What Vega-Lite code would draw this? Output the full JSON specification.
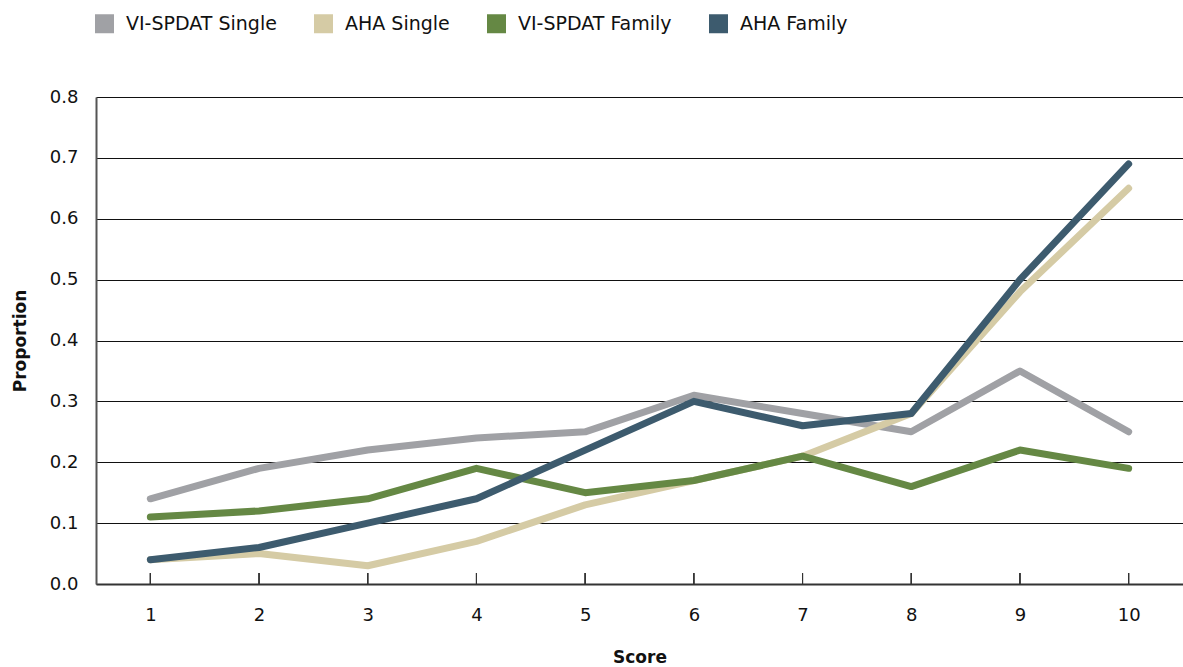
{
  "$schema": "https://vega.github.io/schema/vega-lite/v6.json",
  "width": 1087,
  "height": 487,
  "autosize": {"type": "none"},
  "padding": {"left": 96, "top": 97, "right": 0, "bottom": 83},
  "background": "white",
  "config": {
    "view": {"stroke": null},
    "font": "DejaVu Sans",
    "axis": {"labelFont": "DejaVu Sans", "titleFont": "DejaVu Sans"},
    "legend": {"labelFont": "DejaVu Sans"}
  },
  "data": {
    "values": [
      {"score": 1, "series": "VI-SPDAT Single", "value": 0.14},
      {"score": 2, "series": "VI-SPDAT Single", "value": 0.19},
      {"score": 3, "series": "VI-SPDAT Single", "value": 0.22},
      {"score": 4, "series": "VI-SPDAT Single", "value": 0.24},
      {"score": 5, "series": "VI-SPDAT Single", "value": 0.25},
      {"score": 6, "series": "VI-SPDAT Single", "value": 0.31},
      {"score": 7, "series": "VI-SPDAT Single", "value": 0.28},
      {"score": 8, "series": "VI-SPDAT Single", "value": 0.25},
      {"score": 9, "series": "VI-SPDAT Single", "value": 0.35},
      {"score": 10, "series": "VI-SPDAT Single", "value": 0.25},
      {"score": 1, "series": "AHA Single", "value": 0.04},
      {"score": 2, "series": "AHA Single", "value": 0.05},
      {"score": 3, "series": "AHA Single", "value": 0.03},
      {"score": 4, "series": "AHA Single", "value": 0.07},
      {"score": 5, "series": "AHA Single", "value": 0.13},
      {"score": 6, "series": "AHA Single", "value": 0.17},
      {"score": 7, "series": "AHA Single", "value": 0.21},
      {"score": 8, "series": "AHA Single", "value": 0.28},
      {"score": 9, "series": "AHA Single", "value": 0.48},
      {"score": 10, "series": "AHA Single", "value": 0.65},
      {"score": 1, "series": "VI-SPDAT Family", "value": 0.11},
      {"score": 2, "series": "VI-SPDAT Family", "value": 0.12},
      {"score": 3, "series": "VI-SPDAT Family", "value": 0.14},
      {"score": 4, "series": "VI-SPDAT Family", "value": 0.19},
      {"score": 5, "series": "VI-SPDAT Family", "value": 0.15},
      {"score": 6, "series": "VI-SPDAT Family", "value": 0.17},
      {"score": 7, "series": "VI-SPDAT Family", "value": 0.21},
      {"score": 8, "series": "VI-SPDAT Family", "value": 0.16},
      {"score": 9, "series": "VI-SPDAT Family", "value": 0.22},
      {"score": 10, "series": "VI-SPDAT Family", "value": 0.19},
      {"score": 1, "series": "AHA Family", "value": 0.04},
      {"score": 2, "series": "AHA Family", "value": 0.06},
      {"score": 3, "series": "AHA Family", "value": 0.10},
      {"score": 4, "series": "AHA Family", "value": 0.14},
      {"score": 5, "series": "AHA Family", "value": 0.22},
      {"score": 6, "series": "AHA Family", "value": 0.30},
      {"score": 7, "series": "AHA Family", "value": 0.26},
      {"score": 8, "series": "AHA Family", "value": 0.28},
      {"score": 9, "series": "AHA Family", "value": 0.50},
      {"score": 10, "series": "AHA Family", "value": 0.69}
    ]
  },
  "encoding": {
    "x": {
      "field": "score",
      "type": "ordinal",
      "scale": {"type": "point", "padding": 0.5},
      "axis": {
        "title": "Score",
        "titleFontSize": 17,
        "titleFontWeight": "bold",
        "titleColor": "#111",
        "titlePadding": 25,
        "labelAngle": 0,
        "labelFontSize": 18,
        "labelColor": "#111",
        "labelPadding": 22,
        "domainColor": "#333",
        "domainWidth": 2,
        "ticks": false,
        "grid": false
      }
    }
  },
  "layer": [
    {
      "mark": {"type": "rule", "color": "#333", "strokeWidth": 1},
      "encoding": {
        "y": {"datum": 0},
        "y2": {"datum": 0.018}
      }
    },
    {
      "mark": {"type": "line", "strokeWidth": 7, "strokeCap": "round", "strokeJoin": "round"},
      "encoding": {
        "y": {
          "field": "value",
          "type": "quantitative",
          "scale": {"domain": [0, 0.8], "nice": false},
          "axis": {
            "title": "Proportion",
            "titleFontSize": 17,
            "titleFontWeight": "bold",
            "titleColor": "#111",
            "titlePadding": 20,
            "values": [0, 0.1, 0.2, 0.3, 0.4, 0.5, 0.6, 0.7, 0.8],
            "format": ".1f",
            "labelFontSize": 18,
            "labelColor": "#111",
            "labelPadding": 18,
            "ticks": false,
            "domainColor": "#555",
            "domainWidth": 2,
            "grid": true,
            "gridColor": "#111",
            "gridWidth": 1.2
          }
        },
        "color": {
          "field": "series",
          "type": "nominal",
          "scale": {
            "domain": ["VI-SPDAT Single", "AHA Single", "VI-SPDAT Family", "AHA Family"],
            "range": ["#A0A1A5", "#D5CBA5", "#658844", "#3D5B6E"]
          },
          "legend": {
            "title": null,
            "orient": "none",
            "legendX": -1,
            "legendY": -83,
            "direction": "horizontal",
            "symbolType": "square",
            "symbolSize": 361,
            "symbolStrokeWidth": 0,
            "symbolOpacity": 1,
            "labelFontSize": 19,
            "labelColor": "#111",
            "labelOffset": 12,
            "columnPadding": 37,
            "encode": {
              "symbols": {
                "update": {
                  "fill": {"scale": "color", "field": "value"},
                  "fillOpacity": {"value": 1},
                  "strokeWidth": {"value": 0}
                }
              }
            }
          }
        }
      }
    }
  ]
}
